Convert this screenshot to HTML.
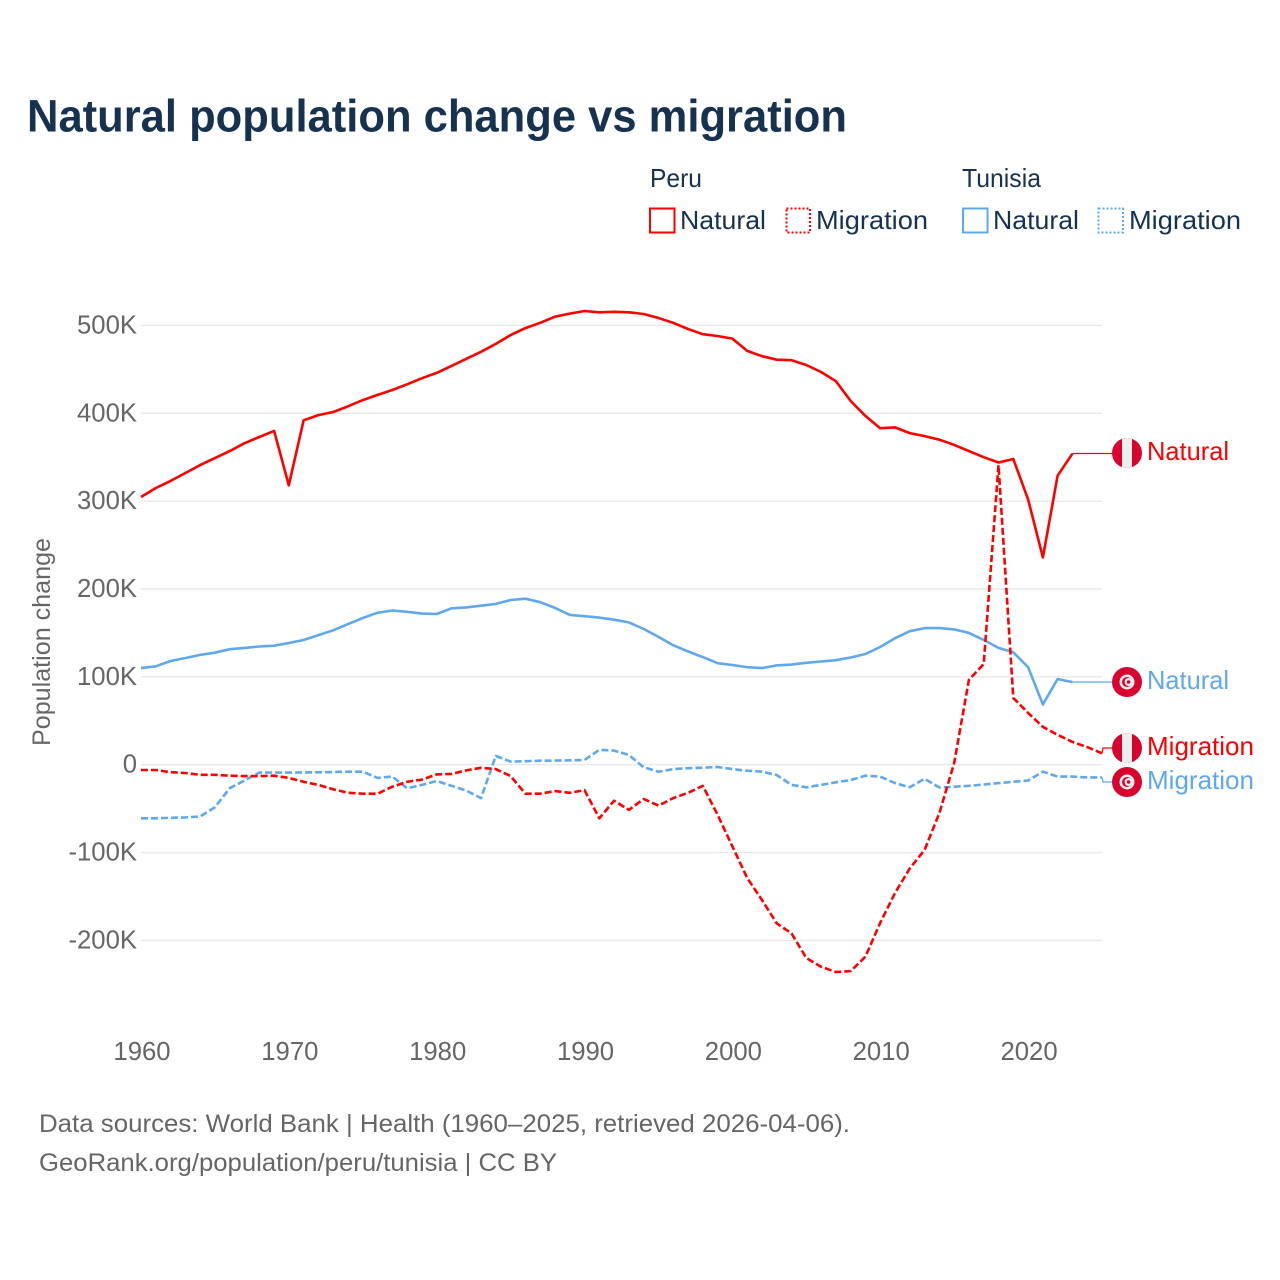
<!DOCTYPE html>
<html lang="en">
<head>
<meta charset="utf-8">
<title>Natural population change vs migration</title>
<style>
html,body{margin:0;padding:0;background:#fff;}
svg{display:block;}
text{font-family:"Liberation Sans",sans-serif;}
</style>
</head>
<body>
<svg id="chart" xmlns="http://www.w3.org/2000/svg" width="1280" height="1280" viewBox="0 0 1280 1280">
  <rect width="1280" height="1280" fill="#fff"/>
  <text x="27" y="131.5" font-size="45" font-weight="700" fill="#17324f" textLength="820" lengthAdjust="spacingAndGlyphs">Natural population change vs migration</text>

  <g font-size="26" fill="#17324f">
    <text x="650" y="187" textLength="52" lengthAdjust="spacingAndGlyphs">Peru</text>
    <text x="962" y="187" textLength="79" lengthAdjust="spacingAndGlyphs">Tunisia</text>

    <g>
      <rect x="650" y="208.5" width="24.5" height="24" fill="none" stroke="#ff0000" stroke-width="2"/>
      <text x="680" y="229" textLength="86" lengthAdjust="spacingAndGlyphs">Natural</text>
    </g>
    <g>
      <rect x="786.5" y="208.5" width="23.5" height="24" fill="none" stroke="#ff0000" stroke-width="2" stroke-dasharray="2 2"/>
      <text x="816" y="229" textLength="112" lengthAdjust="spacingAndGlyphs">Migration</text>
    </g>
    <g>
      <rect x="963" y="208.5" width="24.5" height="24" fill="none" stroke="#5fa8ee" stroke-width="2"/>
      <text x="993" y="229" textLength="86" lengthAdjust="spacingAndGlyphs">Natural</text>
    </g>
    <g>
      <rect x="1098.5" y="208.5" width="24.5" height="24" fill="none" stroke="#5fa8ee" stroke-width="2" stroke-dasharray="2 2"/>
      <text x="1129" y="229" textLength="112" lengthAdjust="spacingAndGlyphs">Migration</text>
    </g>
  </g>

  <g id="grid"></g>
  <g id="y-ticks" font-size="25.7" fill="#666" text-anchor="end"></g>
  <g id="x-ticks" font-size="25.7" fill="#666" text-anchor="middle"></g>
  <text transform="translate(50,642) rotate(-90)" text-anchor="middle" font-size="25" fill="#666" textLength="208" lengthAdjust="spacingAndGlyphs">Population change</text>
  <g id="series"></g>

  <g font-size="26">
    <g transform="translate(1127,453)">
      <circle r="15" fill="#d8042e"/>
      <path d="M-5-14.1A15 15 0 0 1 5-14.1V14.1A15 15 0 0 1-5 14.1Z" fill="#eeeeee"/>
    </g>
    <text x="1147" y="460" fill="#ff0000" textLength="82" lengthAdjust="spacingAndGlyphs">Natural</text>
    <g transform="translate(1127,682)">
      <circle r="15" fill="#d8042e"/>
      <circle r="7.5" fill="#eeeeee"/>
      <circle r="5" fill="#d8042e"/>
      <circle cx="1.6" r="4" fill="#eeeeee"/>
      <circle cx="1.6" r="1.8" fill="#d8042e"/>
    </g>
    <text x="1147" y="689" fill="#5fa8ee" textLength="82" lengthAdjust="spacingAndGlyphs">Natural</text>
    <g transform="translate(1127,748)">
      <circle r="15" fill="#d8042e"/>
      <path d="M-5-14.1A15 15 0 0 1 5-14.1V14.1A15 15 0 0 1-5 14.1Z" fill="#eeeeee"/>
    </g>
    <text x="1147" y="755" fill="#ff0000" textLength="107" lengthAdjust="spacingAndGlyphs">Migration</text>
    <g transform="translate(1127,782)">
      <circle r="15" fill="#d8042e"/>
      <circle r="7.5" fill="#eeeeee"/>
      <circle r="5" fill="#d8042e"/>
      <circle cx="1.6" r="4" fill="#eeeeee"/>
      <circle cx="1.6" r="1.8" fill="#d8042e"/>
    </g>
    <text x="1147" y="789" fill="#5fa8ee" textLength="107" lengthAdjust="spacingAndGlyphs">Migration</text>
  </g>

  <g font-size="25" fill="#666">
    <text x="39" y="1132" textLength="811" lengthAdjust="spacingAndGlyphs">Data sources: World Bank | Health (1960–2025, retrieved 2026-04-06).</text>
    <text x="39" y="1171" textLength="518" lengthAdjust="spacingAndGlyphs">GeoRank.org/population/peru/tunisia | CC BY</text>
  </g>
</svg>
<script>
// Values are in thousands; each series starts at firstYear.
const firstYear = 1960;
const yTickValues = [500, 400, 300, 200, 100, 0, -100, -200];
const yTickLabels = ["500K", "400K", "300K", "200K", "100K", "0", "-100K", "-200K"];
const xTickYears = [1960, 1970, 1980, 1990, 2000, 2010, 2020];
const peruNatural = [
  304.7, 315, 323, 332, 341, 349, 357, 366, 373, 380,
  318, 392, 398, 401.5, 408, 415, 421, 426.5, 433, 440,
  446, 454, 462, 470, 479, 489, 497, 503, 510, 513.5,
  516.5, 515, 515.5, 515, 513, 508.5, 503, 496, 490, 488,
  485, 471, 465, 461, 460.5, 455, 447, 436.5, 414, 397,
  383, 384, 377.5, 374, 370, 364, 357, 350, 344, 348,
  302, 236, 329, 354
];
const peruMigration = [
  -6, -6, -8.5, -9.5, -11.5, -11.5, -12.5, -13, -13, -12.5,
  -15, -19.5, -23, -28, -32, -33, -33, -25, -19.5, -17,
  -11, -10.5, -6.5, -3.5, -5, -13, -33, -33, -30, -32,
  -29, -61, -41, -51.5, -39, -46.5, -38, -32, -24, -57,
  -93, -129, -154, -180.5, -192, -220, -230, -236, -235, -218.5,
  -180, -146, -118, -97, -55, 2, 96.5, 114.6, 341, 76,
  59, 43, 34, 26, 20, 13
];
const tunisiaNatural = [
  110, 112, 118, 121.5, 125, 127.5, 131.5, 133, 134.5, 135.5,
  138.5, 142, 147.5, 153, 160, 167, 173, 175.5, 174, 172,
  171.5, 178, 179, 181, 183, 187.5, 189, 185, 178.5, 170.5,
  169, 167.5, 165, 162, 154.5, 145.5, 136, 129, 122.5, 115.5,
  113.5, 111, 110, 113, 114, 116, 117.5, 119, 122, 126,
  134, 144, 152, 155.5, 155.5, 154, 150, 142, 133, 128,
  111, 68.5, 97.5, 94
];
const tunisiaMigration = [
  -61, -61, -60.5, -60, -59, -48.5, -26.7, -18, -9, -9,
  -9, -8.8, -8.7, -8.3, -8, -8, -15, -13.6, -26.7, -23,
  -18.5, -24, -29.5, -38, 10, 3.5, 4, 4.5, 4.7, 5,
  5.3, 17, 16, 11, -3, -8, -5, -4, -3.4, -2.6,
  -5, -6.8, -8, -11.7, -23, -25.7, -23, -20, -17.4, -12.5,
  -13.6, -21, -25.7, -16, -26, -25, -24, -22.5, -21, -19.5,
  -18, -8, -13.6, -13.6, -14.5, -14.5
];

const NS = 'http://www.w3.org/2000/svg';
const plotLeft = 141, plotRight = 1102, lastYear = 2025;
const zeroY = 764.7, pxPerThousand = 0.8785, connectorEnd = 1112;

function xScale(year) {
  return plotLeft + (year - firstYear) * (plotRight - plotLeft) / (lastYear - firstYear);
}
function yScale(value) {
  return zeroY - value * pxPerThousand;
}
function make(tag, parentId) {
  const el = document.createElementNS(NS, tag);
  document.getElementById(parentId).appendChild(el);
  return el;
}

yTickValues.forEach(function (v, i) {
  const line = make('line', 'grid');
  
  
  line.setAttribute('x1', plotLeft);
  line.setAttribute('x2', plotRight);
  line.setAttribute('y1', yScale(v));
  line.setAttribute('y2', yScale(v));
  line.setAttribute('stroke', '#e9e9e9');
  line.setAttribute('stroke-width', '1.4');
  const label = make('text', 'y-ticks');
  
  
  label.setAttribute('x', 137);
  label.setAttribute('y', yScale(v) + 8);
  label.textContent = yTickLabels[i];
});

xTickYears.forEach(function (year) {
  const label = make('text', 'x-ticks');
  
  
  label.setAttribute('x', xScale(year) + 1);
  label.setAttribute('y', 1060);
  label.textContent = year;
});

function drawSeries(values, color, dashed, labelY, name) {
  const pts = values.map(function (v, i) {
    return xScale(firstYear + i).toFixed(1) + ',' + yScale(v).toFixed(1);
  });
  const path = make('polyline', 'series');
  
  
  path.setAttribute('points', pts.join(' '));
  path.setAttribute('fill', 'none');
  path.setAttribute('stroke', color);
  path.setAttribute('stroke-width', '2.6');
  path.setAttribute('stroke-linejoin', 'round');
  if (dashed) path.setAttribute('stroke-dasharray', '7 3');

  const endX = xScale(firstYear + values.length - 1);
  const endY = yScale(values[values.length - 1]);
  const connector = make('path', 'series');
  
  
  connector.setAttribute('d', 'M' + endX.toFixed(1) + ' ' + endY.toFixed(1) + 'L' + (endX + 1).toFixed(1) + ' ' + labelY + 'H' + connectorEnd);
  connector.setAttribute('fill', 'none');
  connector.setAttribute('stroke', color);
  connector.setAttribute('stroke-width', '1.3');
}

drawSeries(tunisiaMigration, '#5fa8ee', true, 782, 'line-tunisia-migration');
drawSeries(tunisiaNatural, '#5fa8ee', false, 682, 'line-tunisia-natural');
drawSeries(peruMigration, '#ff0000', true, 748, 'line-peru-migration');
drawSeries(peruNatural, '#ff0000', false, 453.5, 'line-peru-natural');
</script>
</body>
</html>
